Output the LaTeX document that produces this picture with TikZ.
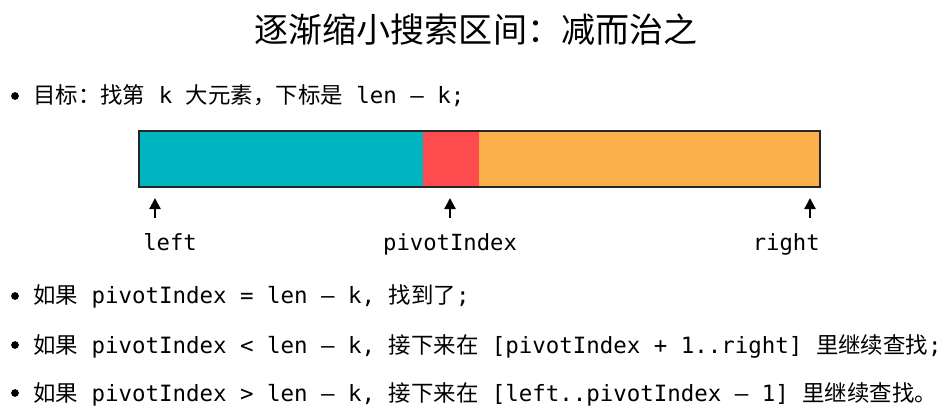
\documentclass[tikz,border=0pt]{standalone}
\usepackage{fontspec}
\setmainfont{Noto Sans CJK SC}
\setmonofont{DejaVu Sans Mono}
\usepackage{xcolor}
\usetikzlibrary{arrows.meta,positioning}
\definecolor{segteal}{HTML}{00B5C0}
\definecolor{segred}{HTML}{FD4B4E}
\definecolor{segorange}{HTML}{FBB04C}

\begin{document}
\begin{tikzpicture}[x=0.025cm,y=-0.025cm,
    seg/.style={minimum height=1.4cm,inner sep=0pt,outer sep=0pt},
    tag/.style={font=\fontsize{15.8}{18}\selectfont\ttfamily,inner sep=0pt},
    item/.style={anchor=base west,inner sep=0pt,font=\fontsize{15.95}{18}\selectfont},
    dot/.style={circle,fill=black,inner sep=0pt,minimum size=5.5pt},
    up/.style={-{Triangle[length=8pt,width=8pt]},line width=1.6pt}]
    \useasboundingbox (0,0) rectangle (951,418);
    \node[font=\fontsize{24.2}{28}\selectfont] (title) at (476,30) {逐渐缩小搜索区间：减而治之};
    % the array
    \node[seg,fill=segteal,minimum width=7.1cm,anchor=north west] (lo) at (139,131) {};
    \node[seg,fill=segred,minimum width=1.4cm,right=0pt of lo] (pv) {};
    \node[seg,fill=segorange,minimum width=8.525cm,right=0pt of pv] (hi) {};
    \draw[line width=1.4pt,black!85] (lo.north west) rectangle (hi.south east);
    % pointers
    \node[tag,anchor=base west] (left) at (143,251) {left};
    \node[tag,anchor=base] (pivot) at (450,251) {pivotIndex};
    \node[tag,anchor=base east] (right) at (820,251) {right};
    \coordinate (aL) at (155,218); \coordinate (tL) at (155,198);
    \coordinate (aP) at (450,218); \coordinate (tP) at (450,198);
    \coordinate (aR) at (810,218); \coordinate (tR) at (810,198);
    \draw[up] (aL) -- (tL);
    \draw[up] (aP) -- (tP);
    \draw[up] (aR) -- (tR);
    % bullets
    \node[dot] (d1) at (15,96) {};
    \node[dot] (d2) at (15,296) {};
    \node[dot] (d3) at (15,345) {};
    \node[dot] (d4) at (15,393) {};
    \node[item] (t1) at (33,104) {目标：找第\texttt{ k }大元素，下标是\texttt{ len – k;}};
    \node[item] (t2) at (33,304) {如果\texttt{ pivotIndex = len – k, }找到了\texttt{;}};
    \node[item] (t3) at (33,353) {如果\texttt{ pivotIndex < len – k, }接下来在\texttt{ [pivotIndex + 1..right] }里继续查找\texttt{;}};
    \node[item] (t4) at (33,401) {如果\texttt{ pivotIndex > len – k, }接下来在\texttt{ [left..pivotIndex – 1] }里继续查找。};
\end{tikzpicture}
\end{document}
